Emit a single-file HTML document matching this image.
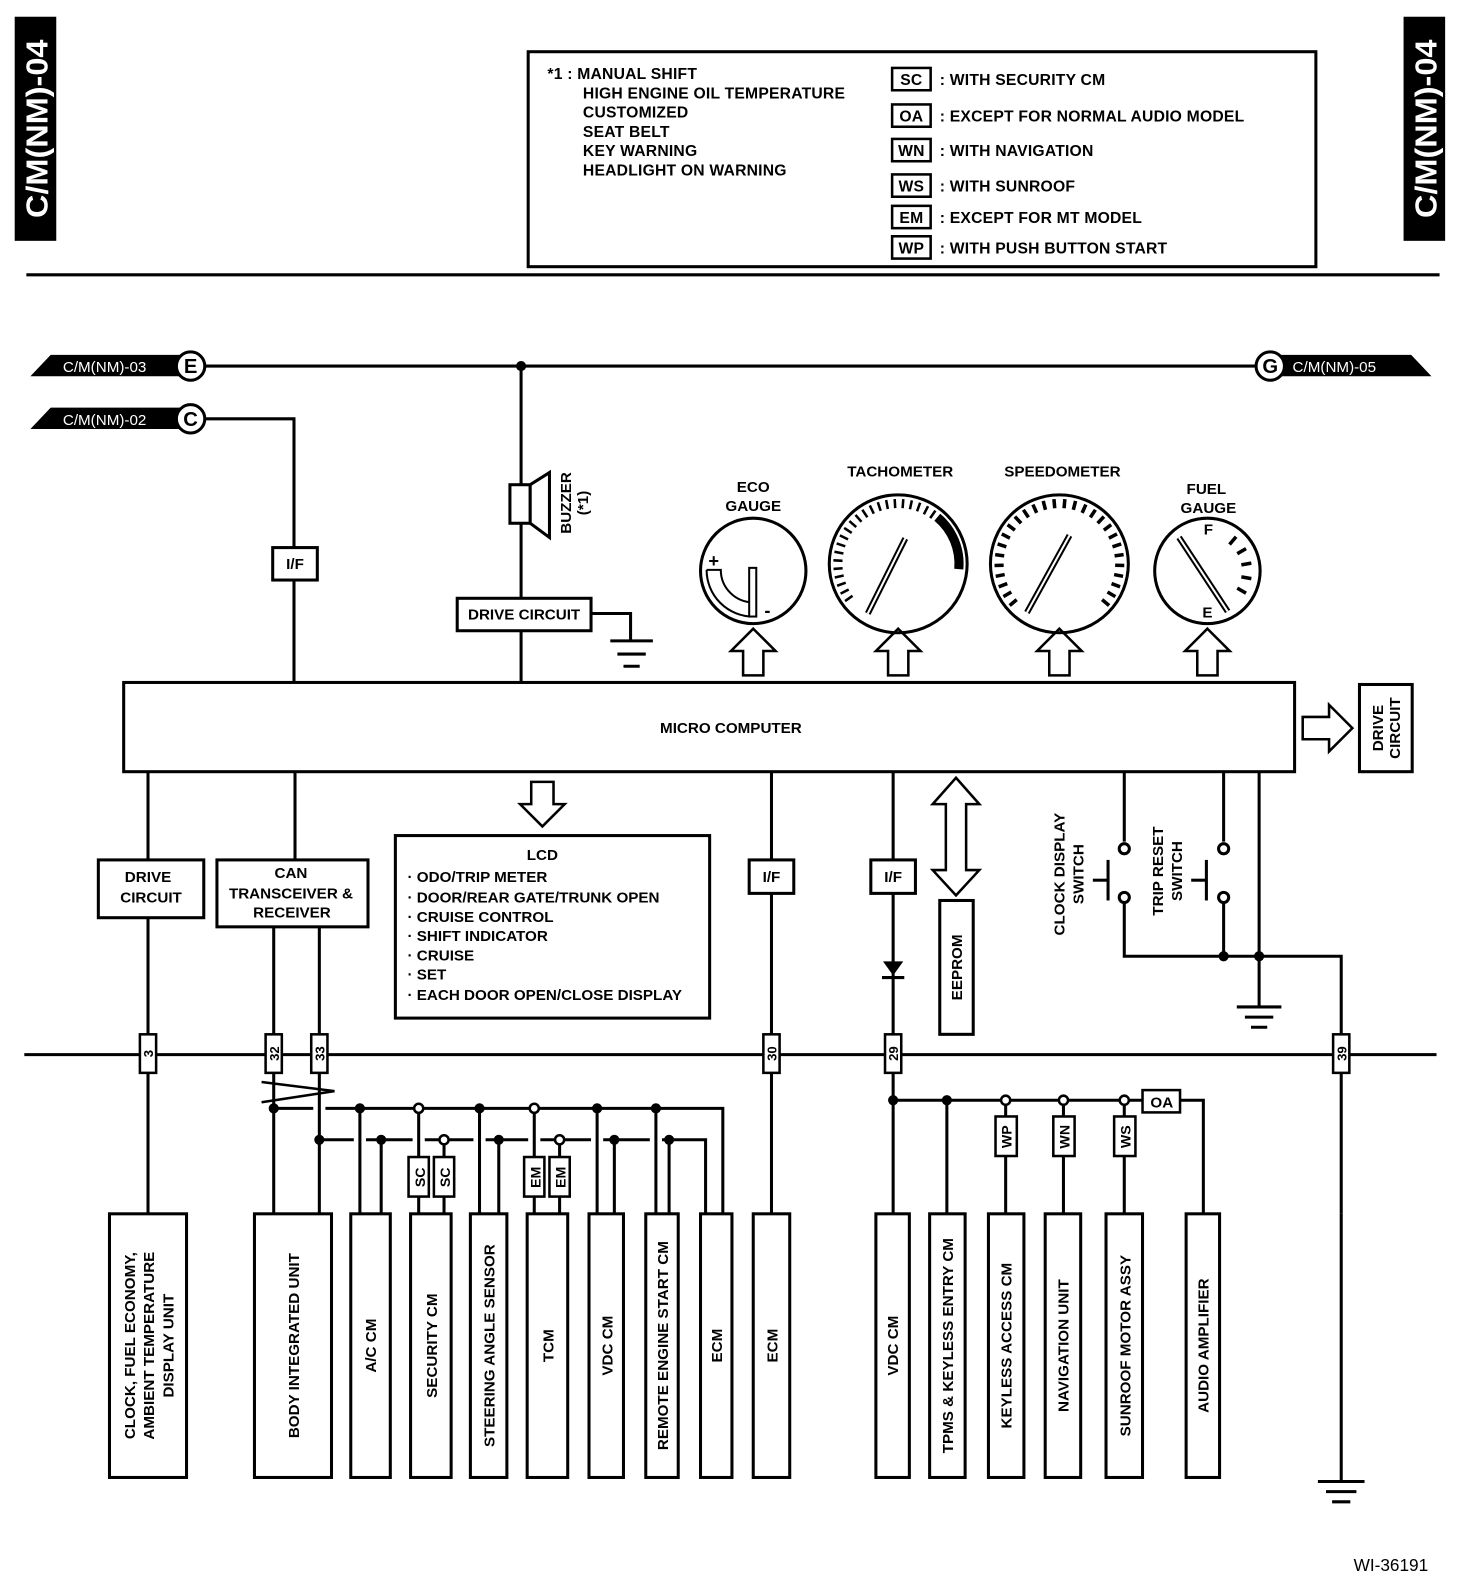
<!DOCTYPE html>
<html><head><meta charset="utf-8"><style>
html,body{margin:0;padding:0;background:#fff}
svg{display:block}
text{font-family:"Liberation Sans",Arial,sans-serif;font-weight:bold;fill:#000}
</style></head><body>
<svg id="s" width="1472" height="1588" viewBox="0 0 1452 1566" preserveAspectRatio="none" xmlns="http://www.w3.org/2000/svg">
<g stroke="#000" stroke-width="3" fill="none">
<rect x="16" y="18" width="38" height="218" fill="#000"/>
<rect x="1386" y="18" width="38" height="218" fill="#000"/>
<rect x="521" y="51" width="777" height="212"/>
<line x1="26" y1="271" x2="1420" y2="271"/>
<g stroke-width="2.5">
<rect x="880" y="67" width="38" height="22"/>
<rect x="880" y="103" width="38" height="22"/>
<rect x="880" y="137" width="38" height="22"/>
<rect x="880" y="172" width="38" height="22"/>
<rect x="880" y="203" width="38" height="22"/>
<rect x="880" y="233" width="38" height="22"/>
</g>
<line x1="202" y1="361" x2="1240" y2="361"/>
<polyline points="202,413 290,413 290,673"/>
<rect x="269" y="540" width="44" height="32" fill="#fff"/>
<line x1="514" y1="361" x2="514" y2="673"/>
<rect x="503" y="478" width="20" height="38" fill="#fff"/>
<polygon points="523,478 542,466 542,530 523,516" fill="#fff"/>
<rect x="451" y="590" width="132" height="32" fill="#fff"/>
<polyline points="583,605 622,605 622,632"/>
<line x1="602" y1="632" x2="644" y2="632"/>
<line x1="609" y1="645" x2="637" y2="645"/>
<line x1="615" y1="657" x2="631" y2="657"/>
<rect x="122" y="673" width="1155" height="88"/>
<g stroke-width="2.5" fill="#fff">
<polygon points="743,620 765,642 753,642 753,666 733,666 733,642 721,642"/>
<polygon points="886,620 908,642 896,642 896,666 876,666 876,642 864,642"/>
<polygon points="1045,620 1067,642 1055,642 1055,666 1035,666 1035,642 1023,642"/>
<polygon points="1191,620 1213,642 1201,642 1201,666 1181,666 1181,642 1169,642"/>
<polygon points="1334,718 1311,695 1311,707 1285,707 1285,729 1311,729 1311,741"/>
<polygon points="535,815 557,793 546,793 546,771 524,771 524,793 513,793"/>
<polygon points="943,767 966,793 953,793 953,858 966,858 943,883 920,858 933,858 933,793 920,793"/>
</g>
<rect x="1341" y="675" width="52" height="86"/>
<circle cx="743" cy="563" r="52"/>
<circle cx="886" cy="556" r="68"/>
<circle cx="1045" cy="556" r="68"/>
<circle cx="1191" cy="563" r="52"/>
<path d="M697,562 A46,46 0 0 0 743,608" stroke-width="2"/>
<path d="M697,562 L711,562 A32,32 0 0 0 743,594" stroke-width="2"/>
<rect x="739" y="560" width="7" height="48" stroke-width="2" fill="#fff"/>
<rect x="390" y="824" width="310" height="180"/>
<line x1="146" y1="761" x2="146" y2="1197"/>
<rect x="97" y="848" width="104" height="57" fill="#fff"/>
<line x1="291" y1="761" x2="291" y2="848"/>
<rect x="214" y="848" width="149" height="66" fill="#fff"/>
<line x1="270" y1="914" x2="270" y2="1197"/>
<line x1="315" y1="914" x2="315" y2="1197"/>
<line x1="761" y1="761" x2="761" y2="1197"/>
<rect x="739" y="848" width="44" height="33" fill="#fff"/>
<line x1="881" y1="761" x2="881" y2="1197"/>
<rect x="859" y="848" width="44" height="33" fill="#fff"/>
<rect x="927" y="888" width="33" height="132"/>
<line x1="1109" y1="761" x2="1109" y2="830"/>
<circle cx="1109" cy="837" r="5" fill="#fff"/>
<circle cx="1109" cy="885" r="5" fill="#fff"/>
<polyline points="1109,890 1109,943 1323,943 1323,1197"/>
<line x1="1093" y1="848" x2="1093" y2="888"/>
<line x1="1078" y1="868" x2="1093" y2="868"/>
<line x1="1207" y1="761" x2="1207" y2="830"/>
<circle cx="1207" cy="837" r="5" fill="#fff"/>
<circle cx="1207" cy="885" r="5" fill="#fff"/>
<line x1="1207" y1="890" x2="1207" y2="943"/>
<line x1="1190" y1="848" x2="1190" y2="888"/>
<line x1="1175" y1="868" x2="1190" y2="868"/>
<line x1="1242" y1="761" x2="1242" y2="993"/>
<line x1="1220" y1="993" x2="1264" y2="993"/>
<line x1="1228" y1="1003" x2="1256" y2="1003"/>
<line x1="1234" y1="1013" x2="1250" y2="1013"/>
<line x1="24" y1="1040" x2="1417" y2="1040"/>
<line x1="1323" y1="1197" x2="1323" y2="1460"/>
<line x1="1300" y1="1461" x2="1346" y2="1461"/>
<line x1="1308" y1="1471" x2="1338" y2="1471"/>
<line x1="1314" y1="1481" x2="1332" y2="1481"/>
<g fill="#fff" stroke-width="2.5">
<rect x="138" y="1020" width="16" height="38"/>
<rect x="262" y="1020" width="16" height="38"/>
<rect x="307" y="1020" width="16" height="38"/>
<rect x="753" y="1020" width="16" height="38"/>
<rect x="873" y="1020" width="16" height="38"/>
<rect x="1315" y="1020" width="16" height="38"/>
</g>
<line x1="258" y1="1067" x2="330" y2="1076" stroke-width="2.5"/>
<line x1="258" y1="1087" x2="330" y2="1076" stroke-width="2.5"/>
<polyline points="270,1093 309,1093"/><polyline points="321,1093 713,1093 713,1197"/>
<polyline points="315,1124 349,1124"/><polyline points="361,1124 407,1124"/><polyline points="419,1124 467,1124"/><polyline points="479,1124 521,1124"/><polyline points="533,1124 583,1124"/><polyline points="595,1124 641,1124"/><polyline points="653,1124 696,1124 696,1197"/>
<line x1="355" y1="1093" x2="355" y2="1197"/>
<line x1="376" y1="1124" x2="376" y2="1197"/>
<line x1="413" y1="1093" x2="413" y2="1197"/>
<line x1="438" y1="1124" x2="438" y2="1197"/>
<line x1="473" y1="1093" x2="473" y2="1197"/>
<line x1="492" y1="1124" x2="492" y2="1197"/>
<line x1="527" y1="1093" x2="527" y2="1197"/>
<line x1="552" y1="1124" x2="552" y2="1197"/>
<line x1="589" y1="1093" x2="589" y2="1197"/>
<line x1="606" y1="1124" x2="606" y2="1197"/>
<line x1="647" y1="1093" x2="647" y2="1197"/>
<line x1="660" y1="1124" x2="660" y2="1197"/>
<g fill="#fff" stroke-width="2.5">
<rect x="403" y="1141" width="20" height="39"/><rect x="428" y="1141" width="20" height="39"/>
<rect x="517" y="1141" width="20" height="39"/><rect x="542" y="1141" width="20" height="39"/>
</g>
<polyline points="881,1085 1127,1085"/>
<polyline points="1164,1085 1187,1085 1187,1197"/>
<rect x="1127" y="1075" width="37" height="22" stroke-width="2.5"/>
<line x1="934" y1="1085" x2="934" y2="1197"/>
<line x1="992" y1="1085" x2="992" y2="1197"/>
<line x1="1049" y1="1085" x2="1049" y2="1197"/>
<line x1="1109" y1="1085" x2="1109" y2="1197"/>
<g fill="#fff" stroke-width="2.5">
<rect x="982" y="1101" width="21" height="39"/><rect x="1039" y="1101" width="21" height="39"/><rect x="1099" y="1101" width="21" height="39"/>
</g>
<g fill="#fff">
<rect x="108" y="1197" width="76" height="260"/>
<rect x="251" y="1197" width="76" height="260"/>
<rect x="346" y="1197" width="39" height="260"/>
<rect x="405" y="1197" width="40" height="260"/>
<rect x="464" y="1197" width="36" height="260"/>
<rect x="520" y="1197" width="40" height="260"/>
<rect x="581" y="1197" width="34" height="260"/>
<rect x="637" y="1197" width="32" height="260"/>
<rect x="691" y="1197" width="31" height="260"/>
<rect x="743" y="1197" width="36" height="260"/>
<rect x="864" y="1197" width="33" height="260"/>
<rect x="917" y="1197" width="35" height="260"/>
<rect x="975" y="1197" width="35" height="260"/>
<rect x="1031" y="1197" width="35" height="260"/>
<rect x="1091" y="1197" width="36" height="260"/>
<rect x="1170" y="1197" width="33" height="260"/>
</g>
</g>
<polygon points="871,948 891,948 881,962" fill="#000"/>
<line x1="870" y1="964" x2="892" y2="964" stroke="#000" stroke-width="3"/>
<polygon points="30,371 50,350 180,350 180,371" fill="#000"/>
<polygon points="30,423 50,402 180,402 180,423" fill="#000"/>
<polygon points="1262,350 1392,350 1412,371 1262,371" fill="#000"/>
<g stroke="#000" stroke-width="3" fill="#fff">
<circle cx="188" cy="361" r="14"/><circle cx="188" cy="413" r="14"/><circle cx="1253" cy="361" r="14"/>
</g>
<g fill="#000">
<circle cx="514" cy="361" r="5"/>
<circle cx="270" cy="1093" r="5"/><circle cx="355" cy="1093" r="5"/><circle cx="473" cy="1093" r="5"/><circle cx="589" cy="1093" r="5"/><circle cx="647" cy="1093" r="5"/>
<circle cx="315" cy="1124" r="5"/><circle cx="376" cy="1124" r="5"/><circle cx="492" cy="1124" r="5"/><circle cx="606" cy="1124" r="5"/><circle cx="660" cy="1124" r="5"/>
<circle cx="881" cy="1085" r="5"/><circle cx="934" cy="1085" r="5"/>
<circle cx="1207" cy="943" r="5"/><circle cx="1242" cy="943" r="5"/>
</g>
<g fill="#fff" stroke="#000" stroke-width="2.5">
<circle cx="413" cy="1093" r="4.5"/><circle cx="527" cy="1093" r="4.5"/>
<circle cx="438" cy="1124" r="4.5"/><circle cx="552" cy="1124" r="4.5"/>
<circle cx="992" cy="1085" r="4.5"/><circle cx="1049" cy="1085" r="4.5"/><circle cx="1109" cy="1085" r="4.5"/>
</g>
<g id="g" stroke="#000" fill="none"></g>
<g stroke="#000" stroke-width="6" stroke-linecap="butt">
<line x1="856" y1="605" x2="893" y2="531"/>
<line x1="1013" y1="604" x2="1055" y2="528"/>
<line x1="1163" y1="530" x2="1211" y2="603"/>
</g>
<g stroke="#fff" stroke-width="2">
<line x1="856" y1="605" x2="893" y2="531"/>
<line x1="1013" y1="604" x2="1055" y2="528"/>
<line x1="1163" y1="530" x2="1211" y2="603"/>
</g>
<g font-size="30">
<text transform="translate(47,127) rotate(-90)" text-anchor="middle" textLength="176" lengthAdjust="spacingAndGlyphs" style="fill:#fff">C/M(NM)-04</text>
<text transform="translate(1417,127) rotate(-90)" text-anchor="middle" textLength="176" lengthAdjust="spacingAndGlyphs" style="fill:#fff">C/M(NM)-04</text>
</g>
<g font-size="15.5" letter-spacing="0.2">
<text x="540" y="78">*1 : MANUAL SHIFT</text>
<text x="575" y="97">HIGH ENGINE OIL TEMPERATURE</text>
<text x="575" y="116">CUSTOMIZED</text>
<text x="575" y="135">SEAT BELT</text>
<text x="575" y="154">KEY WARNING</text>
<text x="575" y="173">HEADLIGHT ON WARNING</text>
<text x="899" y="84" text-anchor="middle">SC</text><text x="927" y="84">: WITH SECURITY CM</text>
<text x="899" y="120" text-anchor="middle">OA</text><text x="927" y="120">: EXCEPT FOR NORMAL AUDIO MODEL</text>
<text x="899" y="154" text-anchor="middle">WN</text><text x="927" y="154">: WITH NAVIGATION</text>
<text x="899" y="189" text-anchor="middle">WS</text><text x="927" y="189">: WITH SUNROOF</text>
<text x="899" y="220" text-anchor="middle">EM</text><text x="927" y="220">: EXCEPT FOR MT MODEL</text>
<text x="899" y="250" text-anchor="middle">WP</text><text x="927" y="250">: WITH PUSH BUTTON START</text>
</g>
<g font-size="15">
<text x="62" y="367" style="fill:#fff;font-weight:normal">C/M(NM)-03</text>
<text x="62" y="419" style="fill:#fff;font-weight:normal">C/M(NM)-02</text>
<text x="1275" y="367" style="fill:#fff;font-weight:normal">C/M(NM)-05</text>
</g>
<g font-size="20" text-anchor="middle">
<text x="188" y="368">E</text><text x="188" y="420">C</text><text x="1253" y="368">G</text>
</g>
<g font-size="15" text-anchor="middle">
<text x="291" y="561">I/F</text>
<text x="517" y="611">DRIVE CIRCUIT</text>
<text x="721" y="723">MICRO COMPUTER</text>
<text x="743" y="485">ECO</text><text x="743" y="504">GAUGE</text>
<text x="888" y="470">TACHOMETER</text>
<text x="1048" y="470">SPEEDOMETER</text>
<text x="1190" y="487">FUEL</text><text x="1192" y="506">GAUGE</text>
<text x="1192" y="527">F</text><text x="1191" y="609">E</text>
<text x="704" y="559" font-size="18">+</text><text x="757" y="608" font-size="18">-</text>
<text x="146" y="870">DRIVE</text><text x="149" y="890">CIRCUIT</text>
<text x="287" y="866">CAN</text><text x="287" y="886">TRANSCEIVER &amp;</text><text x="288" y="905">RECEIVER</text>
<text x="761" y="870">I/F</text><text x="881" y="870">I/F</text>
<text x="535" y="848">LCD</text>
<text x="1146" y="1092">OA</text>
<text x="1372" y="1549" style="font-weight:normal" font-size="17">WI-36191</text>
</g>
<g font-size="15">
<text x="402" y="870">· ODO/TRIP METER</text>
<text x="402" y="890">· DOOR/REAR GATE/TRUNK OPEN</text>
<text x="402" y="909">· CRUISE CONTROL</text>
<text x="402" y="928">· SHIFT INDICATOR</text>
<text x="402" y="947">· CRUISE</text>
<text x="402" y="966">· SET</text>
<text x="402" y="986">· EACH DOOR OPEN/CLOSE DISPLAY</text>
</g>
<g font-size="15" text-anchor="middle">
<text transform="translate(563,496) rotate(-90)">BUZZER</text>
<text transform="translate(580,496) rotate(-90)">(*1)</text>
<text transform="translate(1364,718) rotate(-90)">DRIVE</text>
<text transform="translate(1381,718) rotate(-90)">CIRCUIT</text>
<text transform="translate(949,954) rotate(-90)">EEPROM</text>
<text transform="translate(1050,862) rotate(-90)">CLOCK DISPLAY</text>
<text transform="translate(1069,862) rotate(-90)">SWITCH</text>
<text transform="translate(1147,859) rotate(-90)">TRIP RESET</text>
<text transform="translate(1166,859) rotate(-90)">SWITCH</text>
<text transform="translate(151,1039) rotate(-90)" font-size="13">3</text>
<text transform="translate(275,1039) rotate(-90)" font-size="13">32</text>
<text transform="translate(320,1039) rotate(-90)" font-size="13">33</text>
<text transform="translate(766,1039) rotate(-90)" font-size="13">30</text>
<text transform="translate(886,1039) rotate(-90)" font-size="13">29</text>
<text transform="translate(1328,1039) rotate(-90)" font-size="13">39</text>
<text transform="translate(419,1161) rotate(-90)" font-size="14">SC</text>
<text transform="translate(444,1161) rotate(-90)" font-size="14">SC</text>
<text transform="translate(533,1161) rotate(-90)" font-size="14">EM</text>
<text transform="translate(558,1161) rotate(-90)" font-size="14">EM</text>
<text transform="translate(998,1121) rotate(-90)" font-size="14">WP</text>
<text transform="translate(1055,1121) rotate(-90)" font-size="14">WN</text>
<text transform="translate(1115,1121) rotate(-90)" font-size="14">WS</text>
<text transform="translate(133,1327) rotate(-90)">CLOCK, FUEL ECONOMY,</text>
<text transform="translate(152,1327) rotate(-90)">AMBIENT TEMPERATURE</text>
<text transform="translate(171,1327) rotate(-90)">DISPLAY UNIT</text>
<text transform="translate(295,1327) rotate(-90)">BODY INTEGRATED UNIT</text>
<text transform="translate(371,1327) rotate(-90)">A/C CM</text>
<text transform="translate(431,1327) rotate(-90)">SECURITY CM</text>
<text transform="translate(488,1327) rotate(-90)">STEERING ANGLE SENSOR</text>
<text transform="translate(546,1327) rotate(-90)">TCM</text>
<text transform="translate(604,1327) rotate(-90)">VDC CM</text>
<text transform="translate(659,1327) rotate(-90)">REMOTE ENGINE START CM</text>
<text transform="translate(712,1327) rotate(-90)">ECM</text>
<text transform="translate(767,1327) rotate(-90)">ECM</text>
<text transform="translate(886,1327) rotate(-90)">VDC CM</text>
<text transform="translate(940,1327) rotate(-90)">TPMS &amp; KEYLESS ENTRY CM</text>
<text transform="translate(998,1327) rotate(-90)">KEYLESS ACCESS CM</text>
<text transform="translate(1054,1327) rotate(-90)">NAVIGATION UNIT</text>
<text transform="translate(1115,1327) rotate(-90)">SUNROOF MOTOR ASSY</text>
<text transform="translate(1192,1327) rotate(-90)">AUDIO AMPLIFIER</text>
</g>
</svg>
<script>
(function(){
var g=document.getElementById('g'),NS='http://www.w3.org/2000/svg';
function ln(x1,y1,x2,y2,w){var l=document.createElementNS(NS,'line');l.setAttribute('x1',x1);l.setAttribute('y1',y1);l.setAttribute('x2',x2);l.setAttribute('y2',y2);l.setAttribute('stroke-width',w);g.appendChild(l);}
function ticks(cx,cy,r1,r2,a0,a1,n,w){for(var i=0;i<n;i++){var a=(a0+(a1-a0)*i/(n-1))*Math.PI/180;ln(cx+r1*Math.cos(a),cy-r1*Math.sin(a),cx+r2*Math.cos(a),cy-r2*Math.sin(a),w);}}
ticks(886,556,55,64,215,55,22,2.5);
ticks(1045,556,55,64,220,-40,28,3.5);
ticks(1191,563,34,44,50,-30,5,3.5);
var p=document.createElementNS(NS,'path');
var cx=886,cy=556,r=60,a=50*Math.PI/180,b=-5*Math.PI/180;
p.setAttribute('d','M'+(cx+r*Math.cos(a))+','+(cy-r*Math.sin(a))+' A'+r+','+r+' 0 0 1 '+(cx+r*Math.cos(b))+','+(cy-r*Math.sin(b)));
p.setAttribute('stroke-width','9');g.appendChild(p);
})();
</script>
</body></html>
